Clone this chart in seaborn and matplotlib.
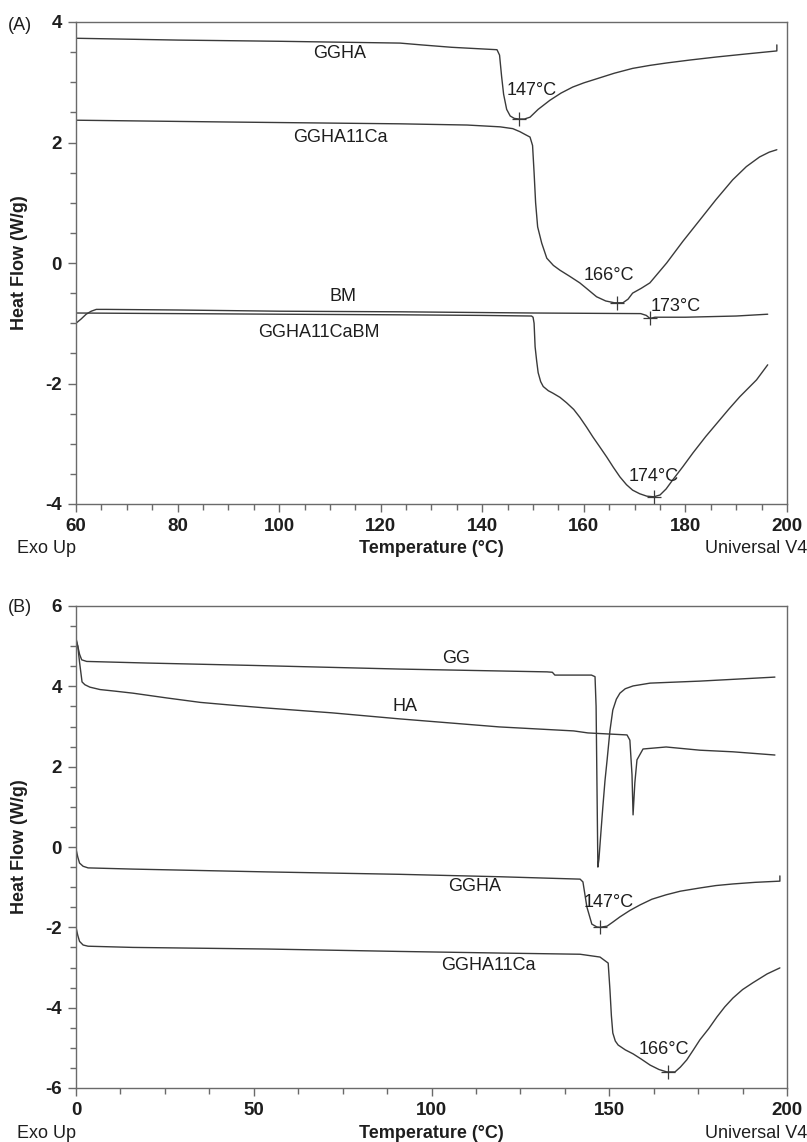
import matplotlib
matplotlib.use("Agg")
import matplotlib.pyplot as plt
import seaborn as sns
from matplotlib.ticker import MultipleLocator

sns.set_theme(style="white")
plt.rcParams['font.family'] = ['Liberation Sans', 'DejaVu Sans']
plt.rcParams['axes.unicode_minus'] = False

# ---------------- Panel (A): heating scans 60-200 °C ----------------
a_ggha_t = [60, 80, 100, 123.8, 128, 134, 142.9, 143.4, 143.8, 144.2, 144.8, 145.5,
            146.3, 147.2, 148.3, 149.4, 151, 153.3, 155.5, 157.8, 160, 163, 166,
            169.6, 173, 176.3, 181, 186.2, 192, 198, 198]
a_ggha_q = [3.73, 3.70, 3.68, 3.65, 3.62, 3.58, 3.54, 3.45, 3.10, 2.80, 2.55, 2.44,
            2.40, 2.39, 2.39, 2.42, 2.55, 2.70, 2.82, 2.92, 2.99, 3.07, 3.15,
            3.23, 3.28, 3.32, 3.37, 3.42, 3.47, 3.52, 3.62]

a_ca_t = [60, 90, 123.8, 137, 143.5, 146, 147.4, 148.5, 149.4, 149.9, 150.2, 150.5,
          150.9, 151.7, 152.7, 154, 155.3, 157.2, 159.2, 160.5, 162.5, 164.3, 166,
          167.7, 168.7, 169.6, 171.3, 173, 176.3, 179.5, 182.8, 186, 189.3, 192,
          194.6, 196.5, 198]
a_ca_q = [2.37, 2.34, 2.31, 2.29, 2.26, 2.23, 2.18, 2.13, 2.09, 1.95, 1.50, 1.00,
          0.60, 0.33, 0.08, -0.04, -0.12, -0.22, -0.33, -0.42, -0.56, -0.63, -0.66,
          -0.66, -0.60, -0.50, -0.42, -0.33, 0.00, 0.36, 0.71, 1.05, 1.38, 1.60,
          1.76, 1.84, 1.88]

a_bm_t = [60, 61, 62, 63, 64, 66, 80, 100, 123.8, 150, 171.2, 172.3, 173, 174, 180,
          190, 196.2]
a_bm_q = [-1.00, -0.93, -0.85, -0.80, -0.77, -0.77, -0.78, -0.80, -0.81, -0.83, -0.84,
          -0.87, -0.92, -0.90, -0.90, -0.88, -0.85]

a_cabm_t = [60, 80, 100, 123.8, 140, 149.7, 150.0, 150.2, 150.4, 150.7, 151, 151.5,
            152, 153, 153.9, 155.3, 156.6, 158, 159.2, 160.5, 161.8, 163.2, 164.5,
            165.8, 167.1, 168.4, 169.6, 171, 172.4, 173.8, 175, 176.2, 177.5, 179.5,
            181.5, 184, 186.2, 188.5, 190.7, 194, 196.2]
a_cabm_q = [-0.83, -0.84, -0.85, -0.86, -0.87, -0.88, -0.90, -1.00, -1.39, -1.62,
            -1.82, -1.97, -2.05, -2.12, -2.16, -2.23, -2.32, -2.43, -2.56, -2.72,
            -2.89, -3.06, -3.22, -3.39, -3.55, -3.68, -3.77, -3.83, -3.87, -3.88,
            -3.85, -3.75, -3.60, -3.38, -3.15, -2.88, -2.66, -2.43, -2.22, -1.94,
            -1.69]

a_peak_t = [147.2, 166.5, 173.0, 173.9]
a_peak_q = [2.39, -0.66, -0.92, -3.88]
a_peak_txt = ["147°C", "166°C", "173°C", "174°C"]
a_peak_lbl_t = [144.7, 160.0, 173.2, 168.9]
a_peak_lbl_q = [2.87, -0.20, -0.73, -3.55]

a_names = ["GGHA", "GGHA11Ca", "BM", "GGHA11CaBM"]
a_name_t = [112.0, 112.0, 112.6, 107.8]
a_name_q = [3.48, 2.09, -0.55, -1.16]

# ---------------- Panel (B): heating scans 0-200 °C ----------------
b_gg_t = [0, 0.5, 1.0, 1.6, 3, 20, 50, 91, 132.5, 134.0, 134.7, 145, 146.0, 146.3,
          146.8, 147.1, 147.6, 148.2, 148.8, 149.4, 150.2, 151, 152, 153, 154.5,
          156.7, 161.5, 175.5, 196.6]
b_gg_q = [5.20, 5.00, 4.80, 4.66, 4.62, 4.58, 4.52, 4.43, 4.36, 4.35, 4.28, 4.28, 4.24,
          3.50, -0.50, -0.30, 0.30, 1.00, 1.65, 2.17, 2.90, 3.41, 3.68, 3.83, 3.94,
          4.01, 4.08, 4.13, 4.23]

b_ha_t = [0, 0.5, 1.0, 1.7, 2.5, 3.9, 6.75, 11, 16, 25.6, 35, 44, 53.7, 72, 91, 119,
          140, 144, 155, 155.8, 156.4, 156.7, 157.2, 157.8, 159.5, 166, 175.5, 184.8,
          196.6]
b_ha_q = [5.15, 5.00, 4.60, 4.11, 4.04, 3.98, 3.92, 3.88, 3.83, 3.71, 3.60, 3.53,
          3.46, 3.34, 3.19, 2.99, 2.89, 2.84, 2.79, 2.66, 1.80, 0.80, 1.60, 2.17,
          2.44, 2.49, 2.41, 2.37, 2.29]

b_ggha_t = [0, 0.5, 1.0, 2.0, 3.4, 16, 53.7, 91, 119, 141.8, 142.6, 143.7, 145.1,
            146.5, 147.4, 149.4, 151, 153, 155.8, 158.7, 162, 166, 170, 175.5, 180,
            184.8, 191, 198, 198]
b_ggha_q = [-0.05, -0.25, -0.40, -0.48, -0.52, -0.55, -0.62, -0.68, -0.74, -0.80,
            -0.87, -1.49, -1.92, -1.99, -2.00, -1.97, -1.87, -1.74, -1.58, -1.44,
            -1.30, -1.19, -1.10, -1.02, -0.96, -0.92, -0.88, -0.85, -0.72]

b_ca_t = [0, 0.5, 1.0, 2.0, 3.4, 16, 53.7, 91, 119, 141.8, 147.4, 149.7, 150.2, 150.6,
          151, 151.7, 152.5, 154.5, 156.7, 159, 161.5, 164, 166.2, 168.5, 170, 171.8,
          173.6, 175.5, 178, 180.3, 182.5, 184.8, 187.5, 190.4, 194.4, 198]
b_ca_q = [-2.00, -2.20, -2.35, -2.44, -2.47, -2.50, -2.54, -2.60, -2.64, -2.67,
          -2.74, -2.89, -3.56, -4.20, -4.63, -4.83, -4.93, -5.05, -5.15, -5.28,
          -5.43, -5.54, -5.60, -5.60, -5.48, -5.30, -5.06, -4.80, -4.52, -4.23,
          -3.98, -3.76, -3.55, -3.38, -3.16, -3.01]

b_peak_t = [147.4, 166.5]
b_peak_q = [-2.00, -5.60]
b_peak_txt = ["147°C", "166°C"]
b_peak_lbl_t = [142.8, 158.2]
b_peak_lbl_q = [-1.39, -5.05]

b_names = ["GG", "HA", "GGHA", "GGHA11Ca"]
b_name_t = [107.0, 92.5, 112.0, 116.0]
b_name_q = [4.70, 3.50, -0.98, -2.94]

LINE = "#3a3a3a"
SPINE = "#6a6a6a"
TXT = "#1e1e1e"

W, H = 807, 1142
fig = plt.figure(figsize=(W / 100, H / 100), dpi=100)
fig.patch.set_facecolor("white")


def px_axes(left, top, right, bottom):
    return fig.add_axes([left / W, 1 - bottom / H, (right - left) / W, (bottom - top) / H])


def style_axes(ax, xlim, ylim, xmaj, xmin, ymaj, ymin):
    ax.set_xlim(*xlim)
    ax.set_ylim(*ylim)
    ax.xaxis.set_major_locator(MultipleLocator(xmaj))
    ax.xaxis.set_minor_locator(MultipleLocator(xmin))
    ax.yaxis.set_major_locator(MultipleLocator(ymaj))
    ax.yaxis.set_minor_locator(MultipleLocator(ymin))
    ax.set_facecolor("white")
    for s in ax.spines.values():
        s.set_visible(True)
        s.set_color(SPINE)
        s.set_linewidth(1.0)
    ax.tick_params(which="both", direction="out", color=SPINE, width=1.0,
                   bottom=True, left=True, top=False, right=False)
    ax.tick_params(which="major", length=6, labelsize=13.5, pad=4, labelcolor=TXT)
    ax.tick_params(which="minor", length=4)
    for lab in ax.get_xticklabels() + ax.get_yticklabels():
        lab.set_fontweight("bold")
    ax.set_xlabel("")
    ax.set_ylabel("Heat Flow (W/g)", fontsize=13, fontweight="bold", color=TXT, labelpad=6)
    ax.grid(False)


def draw_curve(ax, t, q):
    sns.lineplot(x=t, y=q, ax=ax, color=LINE, linewidth=1.0, sort=False,
                 estimator=None, legend=False)


# Panel A
axA = px_axes(76, 22, 787, 504)
for t, q in [(a_ggha_t, a_ggha_q), (a_ca_t, a_ca_q), (a_bm_t, a_bm_q), (a_cabm_t, a_cabm_q)]:
    draw_curve(axA, t, q)
axA.plot(a_peak_t, a_peak_q, linestyle="none", marker="+", markersize=10,
         markeredgewidth=0.9, color=LINE)
for s, x, y in zip(a_peak_txt, a_peak_lbl_t, a_peak_lbl_q):
    axA.text(x, y, s, fontsize=13, color=TXT, ha="left", va="center")
for s, x, y in zip(a_names, a_name_t, a_name_q):
    axA.text(x, y, s, fontsize=13, color=TXT, ha="center", va="center")
style_axes(axA, (60, 200), (-4, 4), 20, 5, 2, 0.5)
axA.yaxis.set_label_coords(-0.068, 0.5)

# Panel B
axB = px_axes(76, 606, 787, 1088)
for t, q in [(b_gg_t, b_gg_q), (b_ha_t, b_ha_q), (b_ggha_t, b_ggha_q), (b_ca_t, b_ca_q)]:
    draw_curve(axB, t, q)
axB.plot(b_peak_t, b_peak_q, linestyle="none", marker="+", markersize=10,
         markeredgewidth=0.9, color=LINE)
for s, x, y in zip(b_peak_txt, b_peak_lbl_t, b_peak_lbl_q):
    axB.text(x, y, s, fontsize=13, color=TXT, ha="left", va="center")
for s, x, y in zip(b_names, b_name_t, b_name_q):
    axB.text(x, y, s, fontsize=13, color=TXT, ha="center", va="center")
style_axes(axB, (0, 200), (-6, 6), 50, 12.5, 2, 0.5)
axB.yaxis.set_label_coords(-0.068, 0.5)

# Panel letters and footer texts
fig.text(8 / W, 1 - 25 / H, "(A)", fontsize=13, color=TXT, ha="left", va="center")
fig.text(8 / W, 1 - 608 / H, "(B)", fontsize=13, color=TXT, ha="left", va="center")
for yc in (548, 1133):
    fig.text(17 / W, 1 - yc / H, "Exo Up", fontsize=13, color=TXT, ha="left", va="center")
    fig.text(431 / W, 1 - yc / H, "Temperature (°C)", fontsize=13, fontweight="bold",
             color=TXT, ha="center", va="center")
    fig.text(807 / W, 1 - yc / H, "Universal V4", fontsize=13, color=TXT,
             ha="right", va="center")

fig.savefig("out.png", dpi=100, facecolor="white")
